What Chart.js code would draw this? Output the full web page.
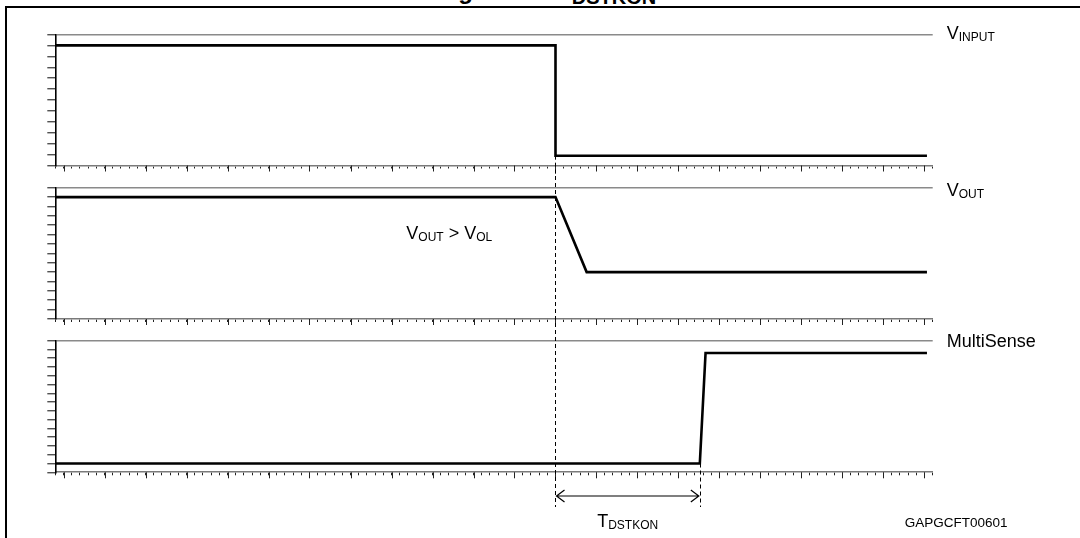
<!DOCTYPE html>
<html>
<head>
<meta charset="utf-8">
<title>TDSTKON</title>
<script src="https://cdn.jsdelivr.net/npm/chart.js@4.4.1/dist/chart.umd.min.js"></script>
<style>
  html, body { margin: 0; padding: 0; background: #fff; overflow: hidden; }
  body { width: 1080px; height: 538px; position: relative; font-family: "Liberation Sans", Arial, sans-serif; }
  #frame { position: absolute; left: 5px; top: 6px; width: 1200px; height: 700px; border: 2.5px solid #000; }
  #title { position: absolute; left: 437px; top: -21px; font: bold 24px/24px "Liberation Sans", Arial, sans-serif; white-space: nowrap; }
  #title span { font-size: 20px; position: relative; top: 4.5px; }
  canvas { position: absolute; left: 0; }
</style>
</head>
<body>
<div id="frame"></div>
<div id="title">Figure 27. T<span>DSTKON</span></div>
<canvas id="panel-input" width="1080" height="176" style="top:0px"></canvas>
<canvas id="panel-out" width="1080" height="154" style="top:176px"></canvas>
<canvas id="panel-sense" width="1080" height="208" style="top:330px"></canvas>
<script>
// time axis, in minor divisions
const timeMax = 107;
const majorTicks = [1, 6, 11, 16, 21, 26, 31, 36, 41, 46, 51, 56, 61, 66, 71, 76, 81, 86, 91, 96, 101, 106];

// waveforms (time in divisions, level in divisions)
const inputTimes = [0, 61, 61, 106.3];
const inputLevels = [11, 11, 0.9, 0.9];
const outTimes = [0, 61, 64.8, 106.3];
const outLevels = [13, 13, 5, 5];
const senseTimes = [0, 78.6, 79.3, 106.3];
const senseLevels = [1, 1, 13.6, 13.6];

// number of vertical divisions per panel
const inputDivs = 12;
const outDivs = 14;
const senseDivs = 15;

// text: [main, subscript] pairs
const inputName = [['V', 'INPUT']];
const outName = [['V', 'OUT']];
const senseName = [['MultiSense', '']];
const outNote = [['V', 'OUT'], [' > ', ''], ['V', 'OL']];
const delayName = [['T', 'DSTKON']];
const figureCode = 'GAPGCFT00601';

// timing markers
const inputOffTime = 61;
const senseOnTime = 78.6;

const FONT = '"Liberation Sans", Arial, sans-serif';

function richWidth(ctx, parts, size, subSize) {
  let w = 0;
  parts.forEach(([main, sub]) => {
    ctx.font = size + 'px ' + FONT;
    w += ctx.measureText(main).width;
    ctx.font = subSize + 'px ' + FONT;
    w += ctx.measureText(sub).width;
  });
  return w;
}

function drawRich(ctx, parts, x, y, size, subSize) {
  ctx.save();
  ctx.fillStyle = '#000';
  ctx.textBaseline = 'alphabetic';
  ctx.textAlign = 'left';
  parts.forEach(([main, sub]) => {
    ctx.font = size + 'px ' + FONT;
    ctx.fillText(main, x, y);
    x += ctx.measureText(main).width;
    if (sub) {
      ctx.font = subSize + 'px ' + FONT;
      ctx.fillText(sub, x, y + 2);
      x += ctx.measureText(sub).width;
    }
  });
  ctx.restore();
}

function dashed(ctx, x, y1, y2) {
  ctx.save();
  ctx.strokeStyle = '#000';
  ctx.lineWidth = 1;
  ctx.setLineDash([4, 3]);
  ctx.beginPath();
  ctx.moveTo(Math.round(x) + 0.5, y1);
  ctx.lineTo(Math.round(x) + 0.5, y2);
  ctx.stroke();
  ctx.restore();
}

function makePanel(id, times, levels, divs, layout, extraDraw) {
  const points = times.map((t, i) => ({ x: t, y: levels[i] }));
  return new Chart(document.getElementById(id), {
    type: 'line',
    data: {
      datasets: [{
        data: points,
        borderColor: '#000',
        borderWidth: 2.6,
        borderJoinStyle: 'miter',
        pointRadius: 0,
        tension: 0,
        clip: false,
      }],
    },
    options: {
      responsive: false,
      animation: false,
      events: [],
      layout: { padding: layout },
      plugins: { legend: { display: false }, tooltip: { enabled: false } },
      scales: {
        x: {
          type: 'linear',
          min: 0,
          max: timeMax,
          afterFit: (s) => { s.height = 8; },
          border: { display: true, color: '#7a7a7a', width: 1.6 },
          grid: { drawOnChartArea: false, tickLength: 3, tickColor: '#222', tickWidth: 1 },
          ticks: { display: false, stepSize: 1 },
        },
        y: {
          min: 0,
          max: divs,
          afterFit: (s) => { s.width = 10; },
          border: { display: true, color: '#000', width: 1.6 },
          grid: {
            drawOnChartArea: true,
            color: (c) => (c.tick && c.tick.value === divs ? '#8a8a8a' : 'rgba(0,0,0,0)'),
            lineWidth: 1.5,
            tickColor: '#333',
            tickLength: 8,
            tickWidth: 1.2,
          },
          ticks: { display: false, stepSize: 1 },
        },
      },
    },
    plugins: [{
      id: 'timingMarks',
      afterDraw(chart) {
        const ctx = chart.ctx;
        const x = chart.scales.x;
        // longer major ticks on the time axis
        ctx.save();
        ctx.strokeStyle = '#222';
        ctx.lineWidth = 1;
        majorTicks.forEach((v) => {
          const px = Math.round(x.getPixelForValue(v)) + 0.5;
          ctx.beginPath();
          ctx.moveTo(px, x.top);
          ctx.lineTo(px, x.top + 6);
          ctx.stroke();
        });
        ctx.restore();
        extraDraw(chart);
      },
    }],
  });
}

makePanel('panel-input', inputTimes, inputLevels, inputDivs,
  { left: 45.3, right: 147.3, top: 34.5, bottom: 2.5 }, (chart) => {
    const { ctx, chartArea: a, scales: { x, y } } = chart;
    drawRich(ctx, inputName, a.right + 14, a.top + 4.5, 18, 12);
    dashed(ctx, x.getPixelForValue(inputOffTime), y.getPixelForValue(inputLevels[2]), chart.height);
  });

makePanel('panel-out', outTimes, outLevels, outDivs,
  { left: 45.3, right: 147.3, top: 11.7, bottom: 3 }, (chart) => {
    const { ctx, chartArea: a, scales: { x } } = chart;
    drawRich(ctx, outName, a.right + 14, a.top + 8.3, 18, 12);
    drawRich(ctx, outNote, a.left + 351, a.top + 51.3, 18, 12);
    dashed(ctx, x.getPixelForValue(inputOffTime), 0, chart.height);
  });

makePanel('panel-sense', senseTimes, senseLevels, senseDivs,
  { left: 45.3, right: 147.3, top: 10.7, bottom: 57.7 }, (chart) => {
    const { ctx, chartArea: a, scales: { x, y } } = chart;
    drawRich(ctx, senseName, a.right + 14, a.top + 6, 18, 12);

    const x1 = x.getPixelForValue(inputOffTime);
    const x2 = x.getPixelForValue(senseOnTime);
    const arrowY = a.bottom + 23.7;
    dashed(ctx, x1, 0, arrowY + 11);
    dashed(ctx, x2, y.getPixelForValue(senseLevels[1]), arrowY + 11);

    // double-headed arrow
    ctx.save();
    ctx.strokeStyle = '#000';
    ctx.lineWidth = 1.2;
    ctx.beginPath();
    ctx.moveTo(x1 + 1, arrowY);
    ctx.lineTo(x2 - 1, arrowY);
    ctx.moveTo(x1 + 9, arrowY - 6);
    ctx.lineTo(x1 + 1, arrowY);
    ctx.lineTo(x1 + 9, arrowY + 6);
    ctx.moveTo(x2 - 9, arrowY - 6);
    ctx.lineTo(x2 - 1, arrowY);
    ctx.lineTo(x2 - 9, arrowY + 6);
    ctx.stroke();
    ctx.restore();

    const w = richWidth(ctx, delayName, 18, 12);
    drawRich(ctx, delayName, (x1 + x2) / 2 - w / 2, a.bottom + 54.7, 18, 12);

    ctx.save();
    ctx.font = '13.5px ' + FONT;
    ctx.fillStyle = '#000';
    ctx.fillText(figureCode, a.right - 28, a.bottom + 54.7);
    ctx.restore();
  });
</script>
</body>
</html>
